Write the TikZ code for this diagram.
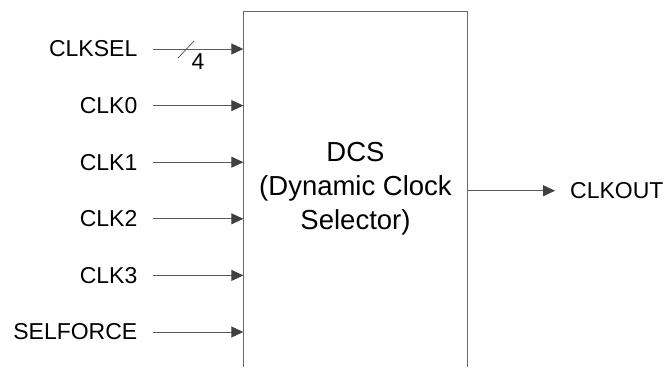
\documentclass[tikz,border=0pt]{standalone}
\usepackage{fontspec}
\setmainfont{Liberation Sans}
\usetikzlibrary{arrows.meta,positioning,calc}
\definecolor{linea}{RGB}{90,90,90}
\definecolor{punta}{RGB}{64,64,64}
\definecolor{borde}{RGB}{105,105,105}

\begin{document}
\begin{tikzpicture}[x=1pt,y=-1pt,
lbl/.style={inner sep=0pt,font=\fontsize{23}{27}\selectfont},
blk/.style={inner sep=0pt,minimum width=224pt,minimum height=355pt,align=center,font=\fontsize{27.5}{34}\selectfont},
arr/.style={draw=linea,line width=0.9pt,-{Triangle[length=12pt,width=11pt,fill=punta,color=punta]}}
]
\useasboundingbox (0,0) rectangle (666,367);
\node[blk] (dcs) at (355.5,189) {DCS\\(Dynamic Clock\\Selector)};
\draw[borde,line width=0.9pt] (dcs.south west) |- (dcs.north east) -- (dcs.south east);

\foreach \name/\txt [count=\i from 0] in {sel/CLKSEL,c0/CLK0,c1/CLK1,c2/CLK2,c3/CLK3,frc/SELFORCE}{
  \node[lbl,anchor=east] (\name) at (137.5,49+56.6*\i) {\txt};
  \coordinate (\name-in) at (dcs.west |- \name.east);
  \draw[arr] ([xshift=15.5pt]\name.east) -- (\name-in);
}
% bus width mark
\coordinate (bus) at ($(sel.east)+(48.5,0)$);
\draw[linea,line width=0.8pt] ($(bus)+(-8,9)$) -- ($(bus)+(8,-8)$);
\node[lbl] (w4) at ($(bus)+(12,13)$) {4};

\node[lbl,anchor=west] (out) at (570,190.7) {CLKOUT};
\draw[arr] (dcs.east |- out.west) -- ([xshift=-15pt]out.west);
\end{tikzpicture}
\end{document}
